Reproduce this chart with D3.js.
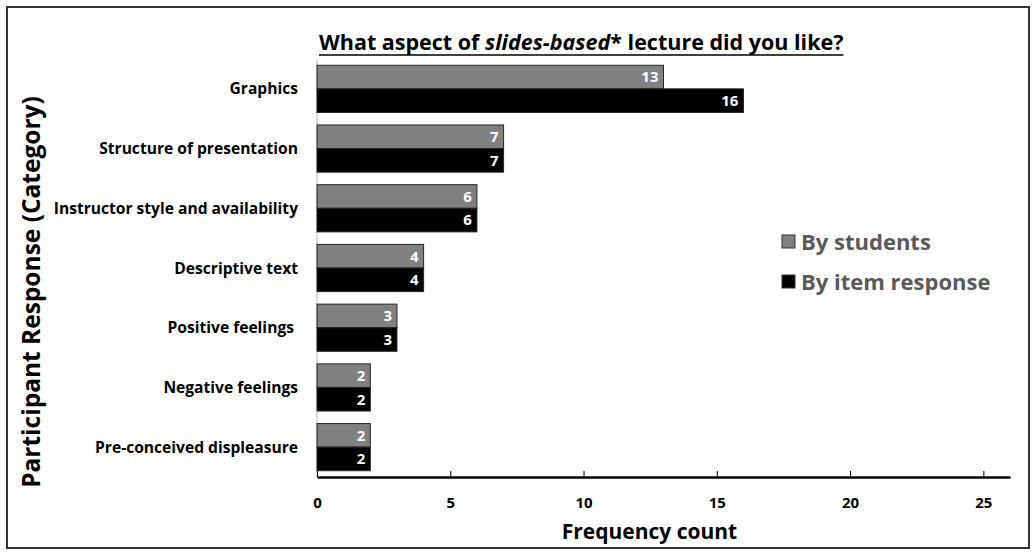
<!DOCTYPE html>
<html>
<head>
<meta charset="utf-8">
<script src="https://cdn.jsdelivr.net/npm/d3@7"></script>
<style>
  html, body { margin: 0; padding: 0; background: #fff; }
  svg { display: block; font-family: "Open Sans", Lato, sans-serif; font-weight: 700; }
</style>
</head>
<body>
<svg id="chart" width="1036" height="555"></svg>
<script>
// Response categories, top to bottom
const categories = [
  "Graphics",
  "Structure of presentation",
  "Instructor style and availability",
  "Descriptive text",
  "Positive feelings ",
  "Negative feelings",
  "Pre-conceived displeasure"
];
const seriesNames = ["By students", "By item response"];
const byStudents = [13, 7, 6, 4, 3, 2, 2];
const byItemResponse = [16, 7, 6, 4, 3, 2, 2];
const xTicks = [0, 5, 10, 15, 20, 25];
const seriesColors = ["#808080", "#000000"];

const svg = d3.select("#chart");
const W = 1036, H = 555;
const FONT = "'Open Sans', Lato, sans-serif";

// outer frame
svg.append("rect")
  .attr("x", 7).attr("y", 7).attr("width", W - 14).attr("height", H - 14)
  .attr("fill", "#fff").attr("stroke", "#333").attr("stroke-width", 2);

const margin = { left: 317, right: 26, top: 59, bottom: 78 };
const x = d3.scaleLinear().domain([0, 26]).range([margin.left, W - margin.right]);
const y = d3.scaleBand().domain(categories).range([margin.top, H - margin.bottom])
  .paddingInner(0.21).paddingOuter(0.105);
const ySub = d3.scaleBand().domain(seriesNames).range([0, y.bandwidth()]);

// vertical category axis line
svg.append("line")
  .attr("x1", x(0)).attr("x2", x(0))
  .attr("y1", margin.top).attr("y2", H - margin.bottom)
  .attr("stroke", "#d0d0d0").attr("stroke-width", 1.5);

const rows = categories.map((c, i) => ({ cat: c, vals: [byStudents[i], byItemResponse[i]] }));

const groups = svg.append("g").selectAll("g").data(rows).join("g")
  .attr("transform", d => `translate(0,${y(d.cat)})`);

groups.selectAll("rect").data(d => d.vals.map((v, j) => ({ v, s: seriesNames[j], j })))
  .join("rect")
  .attr("x", x(0))
  .attr("y", d => ySub(d.s))
  .attr("width", d => x(d.v) - x(0))
  .attr("height", ySub.bandwidth())
  .attr("fill", d => seriesColors[d.j])
  .attr("stroke", "#262626").attr("stroke-width", 1);

groups.selectAll("text.val").data(d => d.vals.map((v, j) => ({ v, s: seriesNames[j] })))
  .join("text").attr("class", "val")
  .attr("x", d => x(d.v) - 5)
  .attr("y", d => ySub(d.s) + ySub.bandwidth() / 2)
  .attr("dy", "0.36em")
  .attr("text-anchor", "end")
  .attr("fill", "#fff")
  .attr("font-size", 15)
  .text(d => d.v);

// category labels
svg.append("g").selectAll("text").data(categories).join("text")
  .attr("x", 298)
  .attr("y", d => y(d) + y.bandwidth() / 2)
  .attr("dy", "0.36em")
  .attr("text-anchor", "end")
  .attr("font-size", 15.6)
  .attr("fill", "#000")
  .style("white-space", "pre")
  .text(d => d);

// x axis
const xAxis = d3.axisBottom(x).tickValues(xTicks).tickSizeInner(-6).tickSizeOuter(0).tickPadding(20);
const gx = svg.append("g").attr("transform", `translate(0,${H - margin.bottom})`).call(xAxis);
gx.select(".domain").attr("stroke", "#000").attr("stroke-width", 2.5);
gx.selectAll(".tick line").attr("stroke", "#000").attr("stroke-width", 1);
gx.selectAll(".tick text")
  .attr("font-family", FONT)
  .attr("font-weight", 700)
  .attr("font-size", 15).attr("fill", "#000");

// axis titles
svg.append("text")
  .attr("x", (x(0) + x(26)) / 2 - 14).attr("y", 539)
  .attr("text-anchor", "middle").attr("font-size", 21).attr("fill", "#000")
  .text("Frequency count");

svg.append("text")
  .attr("transform", "translate(40,292) rotate(-90)")
  .attr("text-anchor", "middle").attr("font-size", 24.5).attr("fill", "#000")
  .text("Participant Response (Category)");

// chart title with italic segment and underline
const title = svg.append("text")
  .attr("x", 319).attr("y", 50)
  .attr("font-size", 21.5).attr("fill", "#000");
title.append("tspan").text("What aspect of ");
title.append("tspan").attr("font-style", "italic").text("slides-based");
title.append("tspan").text("* lecture did you like?");
const tb = title.node().getBBox();
svg.append("line")
  .attr("x1", tb.x).attr("x2", tb.x + tb.width)
  .attr("y1", 55).attr("y2", 55)
  .attr("stroke", "#000").attr("stroke-width", 1.5);

// legend
const legend = svg.append("g").selectAll("g").data(seriesNames).join("g")
  .attr("transform", (d, i) => `translate(782,${242 + i * 40})`);
legend.append("rect")
  .attr("x", 0).attr("y", -7).attr("width", 13).attr("height", 13)
  .attr("fill", (d, i) => seriesColors[i]).attr("stroke", "#333").attr("stroke-width", 1);
legend.append("text")
  .attr("x", 19).attr("y", 0).attr("dy", "0.36em")
  .attr("font-size", 22).attr("fill", "#595959")
  .text(d => d);
</script>
</body>
</html>
